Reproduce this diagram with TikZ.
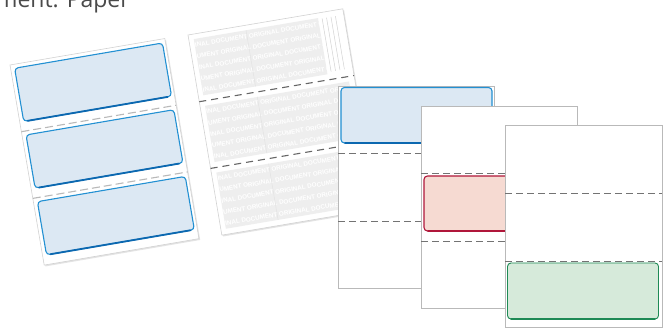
\documentclass[tikz,border=0pt]{standalone}
\usepackage{fontspec}
\newfontfamily\titlefont{Open Sans}
\newfontfamily\wmfont{Liberation Sans}
\definecolor{bluefill}{HTML}{DCE8F3}
\definecolor{blueline}{HTML}{2290D2}
\definecolor{bluedark}{HTML}{0C68B0}
\definecolor{redfill}{HTML}{F6DAD2}
\definecolor{redline}{HTML}{B0173A}
\definecolor{greenfill}{HTML}{D6EADA}
\definecolor{greenline}{HTML}{1E8A55}
\definecolor{wmgray}{HTML}{EEEEEE}
\definecolor{dashgray}{HTML}{737373}
\definecolor{titlecol}{HTML}{4A4A4A}
\def\wmA{ORIGINAL DOCUMENT ORIGINAL DOCUMENT ORIGINAL}
\def\wmB{DOCUMENT ORIGINAL DOCUMENT ORIGINAL DOCUMENT}
\begin{document}
\begin{tikzpicture}[x=1pt,y=-1pt,
  sheet/.style={fill=white, draw=gray!55, line width=0.7pt},
  flatsheet/.style={fill=white, draw=gray!35, line width=0.6pt},
  sheetshadow/.style={fill=gray!22},
  perf/.style={draw=dashgray, line width=0.9pt, dash pattern=on 7pt off 4pt},
  perfA/.style={draw=gray!55, line width=1.1pt, dash pattern=on 8pt off 4pt},
  perfB/.style={draw=gray!80!black, line width=1.1pt, dash pattern=on 7pt off 5pt},
  chk/.style={rounded corners=3.5pt, line width=1.1pt},
  chkbottom/.style={line width=1.8pt, line cap=round},
  wm/.style={font=\wmfont\bfseries\fontsize{6.3}{6.3}\selectfont, text=white, inner sep=0pt, transform shape},
  wmblock/.style={fill=wmgray},
  wmline/.style={draw=gray!22, line width=0.5pt}
]
\useasboundingbox (0,0) rectangle (663,328);
\clip (0,0) rectangle (663,328);
\fill[white] (0,0) rectangle (663,328);

% title (cropped)
\node[font=\titlefont\fontsize{23}{23}\selectfont, text=titlecol, anchor=base east, inner sep=0pt] (title) at (130,8) {ment: Paper};

% sheet 1: three blue checks
\begin{scope}[shift={(10,65)}, rotate=9.7]
  \fill[sheetshadow] (1,1.5) rectangle (158,204.5);
  \filldraw[flatsheet] (0,0) rectangle (157,203);
  \foreach \i in {0,1,2} {
    \pgfmathsetmacro{\sy}{67.67*\i}
    \filldraw[chk, fill=bluefill, draw=blueline] (4,{\sy+4}) rectangle (154,{\sy+58});
    \draw[chkbottom, draw=bluedark] (8,{\sy+58}) -- (150,{\sy+58});
  }
  \draw[perfA] (0,67.67) -- (157,67.67);
  \draw[perfA] (0,135.33) -- (157,135.33);
\end{scope}

% sheet 2: watermark
\begin{scope}[shift={(188,35)}, rotate=9.6]
  \fill[sheetshadow] (1,1.5) rectangle (158,204.5);
  \filldraw[flatsheet] (0,0) rectangle (157,203);
  \foreach \s in {0,1,2} {
    \pgfmathsetmacro{\sy}{67.67*\s}
    \pgfmathsetmacro{\rr}{\s==0 ? 131 : 151}
    \fill[wmblock] (5,{\sy+5}) rectangle (\rr,{\sy+62});
    \begin{scope}
      \clip (5,{\sy+5}) rectangle (\rr,{\sy+62});
      \foreach \k in {0,...,4} {
        \pgfmathsetmacro{\by}{\sy+5+11.4*\k+8.3}
        \ifodd\k
          \node[wm, anchor=base west] (wm-\s-\k) at (-9,\by) {\wmB};
        \else
          \node[wm, anchor=base west] (wm-\s-\k) at (-11,\by) {\wmA};
        \fi
      }
    \end{scope}
    \draw[wmline] (58,{\sy+5}) -- (58,{\sy+62});
  }
  \foreach \u in {135,139.5,144,148.5} \draw[wmline, draw=gray!35] (\u,6) -- (\u,60);
  \draw[perfB] (0,67.67) -- (157,67.67);
  \draw[perfB] (0,135.33) -- (157,135.33);
\end{scope}

% sheet 3: blue check on top
\filldraw[sheet] (338,86) rectangle (494,288);
\filldraw[chk, fill=bluefill, draw=blueline] (341,87.5) rectangle (492,143);
\draw[chkbottom, draw=bluedark] (345,143) -- (488,143);
\draw[perf] (338,153) -- (494,153);
\draw[perf] (338,221) -- (494,221);

% sheet 4: red check in middle
\filldraw[sheet] (421,106) rectangle (577,308);
\filldraw[chk, fill=redfill, draw=redline] (424,176) rectangle (574,231);
\draw[chkbottom, draw=redline] (428,231) -- (570,231);
\draw[perf] (421,173) -- (577,173);
\draw[perf] (421,241) -- (577,241);

% sheet 5: green check at bottom
\filldraw[sheet] (505,125) rectangle (662,327);
\filldraw[chk, fill=greenfill, draw=greenline, line width=0.9pt] (507.5,263) rectangle (658.5,319);
\draw[chkbottom, draw=greenline, line width=1.4pt] (511,319) -- (655,319);
\draw[perf, line width=0.8pt] (505,193) -- (662,193);
\draw[perf, line width=0.8pt] (505,261) -- (662,261);
\end{tikzpicture}
\end{document}
